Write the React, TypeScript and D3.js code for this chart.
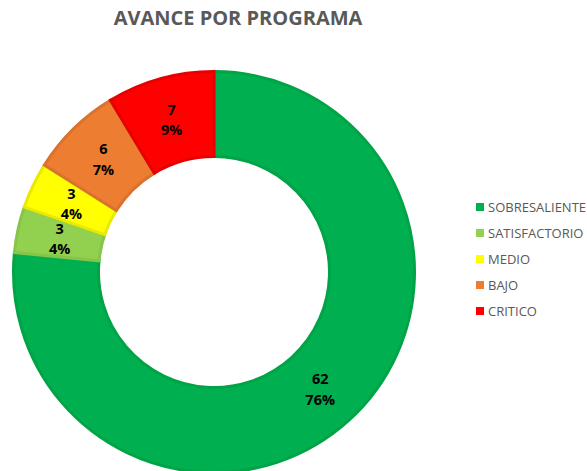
import React from "react";
import * as d3 from "d3";

const categories = ["SOBRESALIENTE", "SATISFACTORIO", "MEDIO", "BAJO", "CRITICO"];
const values = [62, 3, 3, 6, 7];
const percentLabels = ["76%", "4%", "4%", "7%", "9%"];
const colors = ["#00B050", "#92D050", "#FFFF00", "#ED7D31", "#FF0000"];
const borderColors = ["#00A447", "#86C44A", "#EAEA00", "#D9722C", "#E80000"];

const W = 587;
const H = 471;
const cx = 214;
const cy = 272;
const outerR = 202;
const innerR = 114;

export default function App() {
  const pie = d3.pie<number>().sort(null).value((d) => d)(values);
  const arc = d3.arc<d3.PieArcDatum<number>>().innerRadius(innerR + 1.5).outerRadius(outerR - 1.5);
  const labelArc = d3.arc<d3.PieArcDatum<number>>().innerRadius(innerR).outerRadius(outerR);
  const legendY = d3.scaleBand<string>().domain(categories).range([194, 324]);

  return (
    <svg
      width={W}
      height={H}
      style={{ position: "absolute", left: 0, top: 0, background: "#fff" }}
      fontFamily="'Open Sans', 'Noto Sans', sans-serif"
    >
      <text x={238} y={25} textAnchor="middle" fontSize={20} fontWeight={700} fill="#595959">
        AVANCE POR PROGRAMA
      </text>
      <g transform={`translate(${cx},${cy})`}>
        {pie.map((p, i) => (
          <path
            key={i}
            d={arc(p) || ""}
            fill={colors[i]}
            stroke={borderColors[i]}
            strokeWidth={3}
            strokeLinejoin="miter"
          />
        ))}
        {pie.map((p, i) => {
          const [lx, ly] = labelArc.centroid(p);
          return (
            <text key={i} textAnchor="middle" fontSize={14.5} fontWeight={700} fill="#000">
              <tspan x={lx} y={ly - 5}>{values[i]}</tspan>
              <tspan x={lx} y={ly + 15.5}>{percentLabels[i]}</tspan>
            </text>
          );
        })}
      </g>
      <g>
        {categories.map((c, i) => {
          const y = (legendY(c) || 0) + legendY.bandwidth() / 2;
          return (
            <g key={c}>
              <rect x={476} y={y - 4} width={8} height={8} fill={colors[i]} />
              <text x={488} y={y + 4.5} fontSize={13} fill="#595959">
                {c}
              </text>
            </g>
          );
        })}
      </g>
    </svg>
  );
}
